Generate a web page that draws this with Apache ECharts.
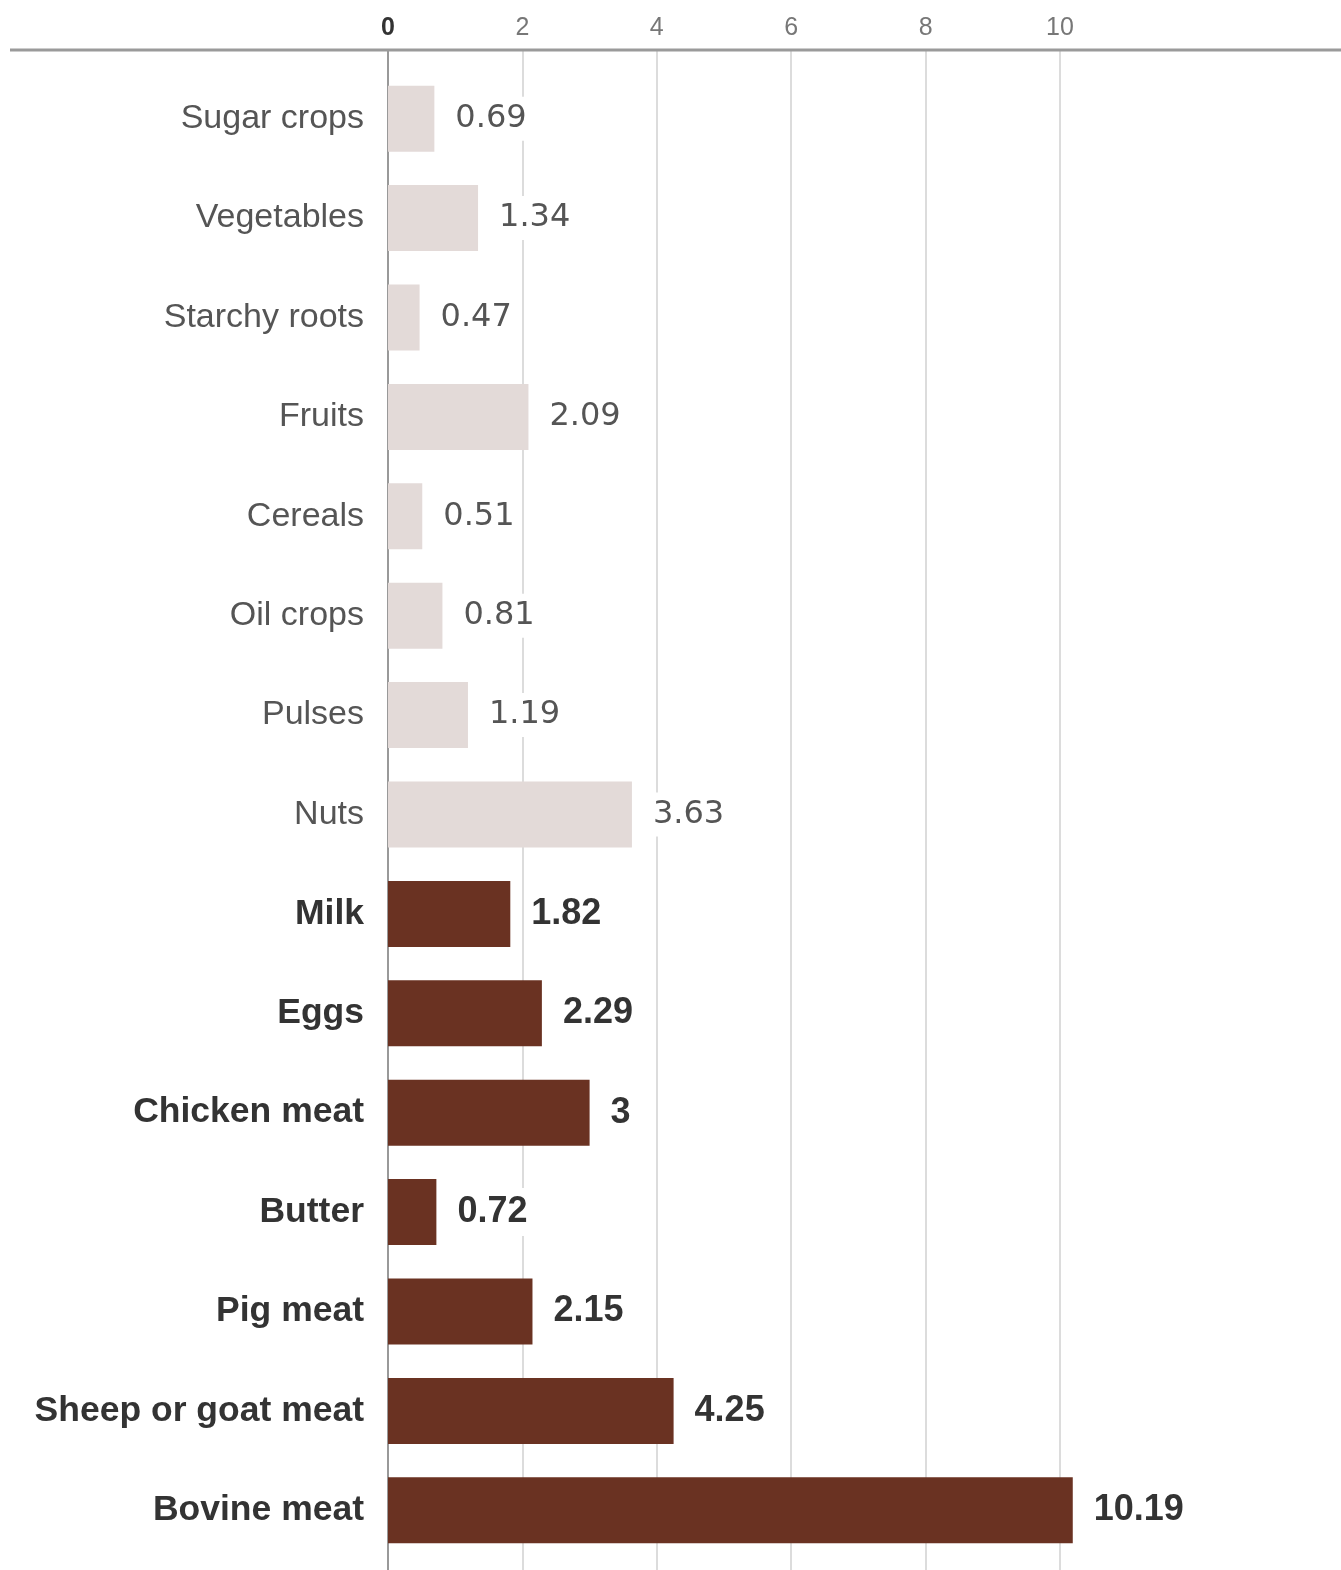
<!DOCTYPE html>
<html>
<head>
<meta charset="utf-8">
<script src="https://cdn.jsdelivr.net/npm/echarts@6/dist/echarts.min.js"></script>
<style>
  html, body { margin: 0; padding: 0; background: #fff; }
  #chart { width: 1341px; height: 1570px; }
</style>
</head>
<body>
<div id="chart"></div>
<script>
// Plant-based foods (light bars, regular labels)
const plantFoods = ['Sugar crops', 'Vegetables', 'Starchy roots', 'Fruits', 'Cereals', 'Oil crops', 'Pulses', 'Nuts'];
const plantValues = [0.69, 1.34, 0.47, 2.09, 0.51, 0.81, 1.19, 3.63];

// Animal-based foods (dark bars, bold labels)
const animalFoods = ['Milk', 'Eggs', 'Chicken meat', 'Butter', 'Pig meat', 'Sheep or goat meat', 'Bovine meat'];
const animalValues = [1.82, 2.29, 3, 0.72, 2.15, 4.25, 10.19];

// Value axis ticks
const tickValues = [0, 2, 4, 6, 8, 10];

const FONT = '"Liberation Sans", Arial, sans-serif';
const NUM_FONT = '"DejaVu Sans", Verdana, sans-serif';
const PLANT_COLOR = '#e3dad8';
const ANIMAL_COLOR = '#6a3222';

const categories = plantFoods.concat(animalFoods);
const animalSet = new Set(animalFoods);

const barData = plantValues.map(v => ({
  value: v,
  itemStyle: { color: PLANT_COLOR },
  label: { fontFamily: NUM_FONT, fontWeight: 'normal', fontSize: 32, color: '#555' }
})).concat(animalValues.map(v => ({
  value: v,
  itemStyle: { color: ANIMAL_COLOR },
  label: { fontFamily: FONT, fontWeight: 'bold', fontSize: 36, color: '#333' }
})));

const axisMin = tickValues[0];
const axisMax = tickValues[tickValues.length - 1];
const axisStep = tickValues[1] - tickValues[0];

const chart = echarts.init(document.getElementById('chart'), null, { renderer: 'canvas' });

chart.setOption({
  backgroundColor: '#fff',
  animation: false,
  grid: [
    // background grid: top axis, gridlines and zero line running full height
    { left: 388, right: 281, top: 50, bottom: 0 },
    // bars
    { left: 388, right: 281, top: 69, bottom: 10 }
  ],
  xAxis: [
    {
      gridIndex: 0,
      type: 'value',
      position: 'top',
      min: axisMin,
      max: axisMax,
      interval: axisStep,
      axisLine: { show: false },
      axisTick: { show: false },
      splitLine: { show: true, lineStyle: { color: '#dcdcdc', width: 2 } },
      axisLabel: {
        margin: 9,
        fontFamily: FONT,
        fontSize: 25,
        color: '#777',
        formatter: v => v === 0 ? '{zero|0}' : String(v),
        rich: { zero: { fontFamily: FONT, fontSize: 25, fontWeight: 'bold', color: '#333' } }
      }
    },
    {
      gridIndex: 1,
      type: 'value',
      min: axisMin,
      max: axisMax,
      interval: axisStep,
      show: false
    }
  ],
  yAxis: [
    {
      gridIndex: 0,
      type: 'value',
      min: 0,
      max: 1,
      axisLine: { show: true, lineStyle: { color: '#999', width: 2 } },
      axisTick: { show: false },
      axisLabel: { show: false },
      splitLine: { show: false }
    },
    {
      gridIndex: 1,
      type: 'category',
      inverse: true,
      data: categories,
      axisLine: { show: false },
      axisTick: { show: false },
      splitLine: { show: false },
      axisLabel: {
        margin: 24,
        fontFamily: FONT,
        fontSize: 34,
        formatter: name => animalSet.has(name) ? '{b|' + name + '}' : '{n|' + name + '}',
        rich: {
          n: { fontFamily: FONT, fontSize: 34, color: '#555', fontWeight: 'normal' },
          b: { fontFamily: FONT, fontSize: 35.5, color: '#333', fontWeight: 'bold' }
        }
      }
    }
  ],
  series: [
    {
      type: 'bar',
      xAxisIndex: 1,
      yAxisIndex: 1,
      data: barData,
      barWidth: 66,
      clip: false,
      label: {
        show: true,
        position: 'right',
        distance: 15,
        fontFamily: NUM_FONT,
        fontSize: 32,
        backgroundColor: '#fff',
        padding: [6, 6],
        formatter: p => String(p.value)
      }
    }
  ],
  graphic: [
    {
      // top rule across the whole width
      type: 'line',
      z: 10,
      shape: { x1: 10, y1: 50, x2: 1341, y2: 50 },
      style: { stroke: '#9a9a9a', lineWidth: 3 }
    }
  ]
});
</script>
</body>
</html>
